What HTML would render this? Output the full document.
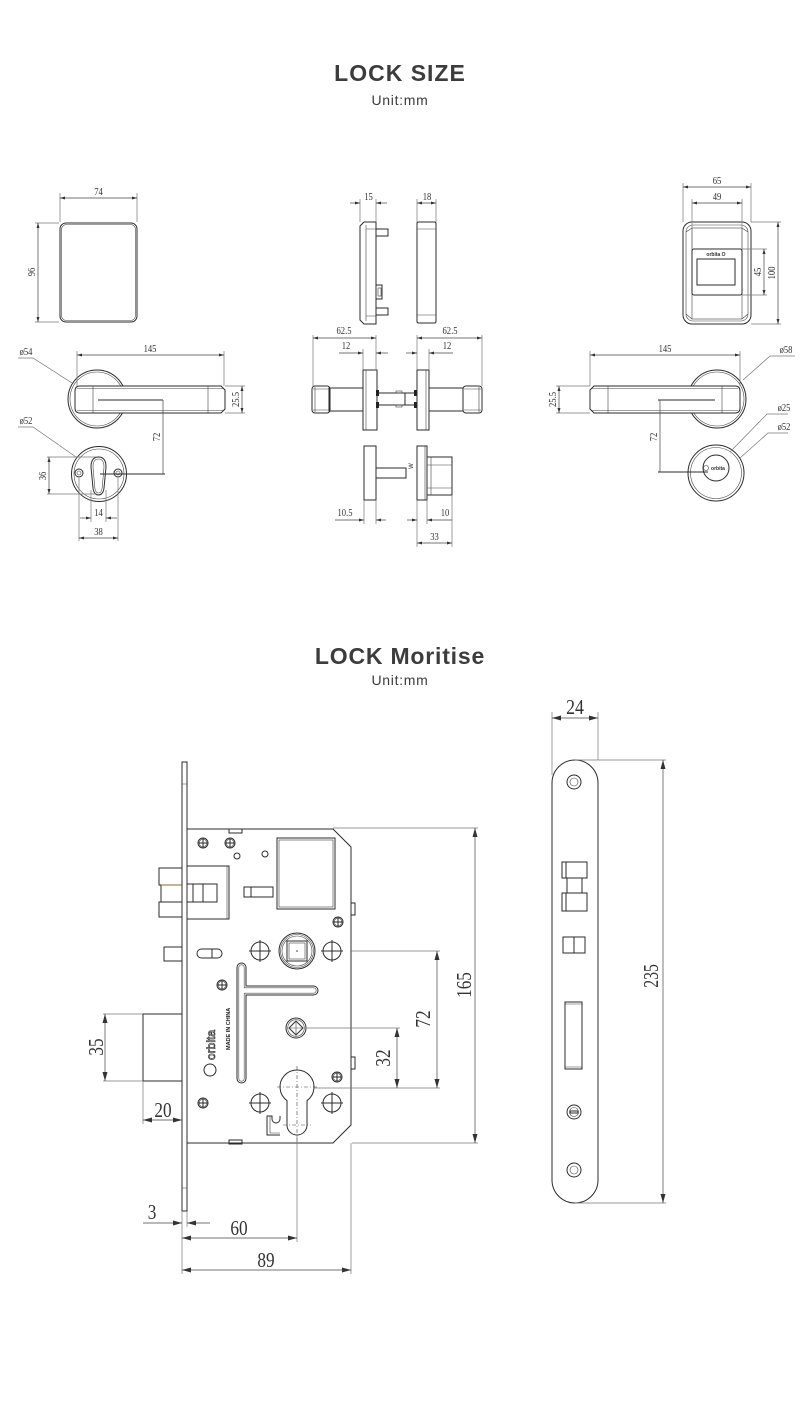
<!DOCTYPE html>
<html><head><meta charset="utf-8"><style>
html,body{margin:0;padding:0;background:#fff;}
svg{display:block;}
.t{font-family:"Liberation Sans",Arial,sans-serif;fill:#3c3c3c;text-anchor:middle;}
.s{font-family:"Liberation Serif",serif;font-size:11px;fill:#333;text-anchor:middle;}
.b{font-family:"Liberation Serif",serif;font-size:21px;fill:#333;text-anchor:middle;}
.o{fill:none;stroke:#2b2b2b;stroke-width:1;}
.w{fill:#fff;stroke:#2b2b2b;stroke-width:1;}
.th{fill:none;stroke:#444;stroke-width:0.6;}
.e{fill:none;stroke:#777;stroke-width:0.7;}
.ds{fill:none;stroke:#444;stroke-width:0.7;}
.dash{fill:none;stroke:#444;stroke-width:0.6;stroke-dasharray:4 2 1 2;}
</style></head><body>
<svg width="800" height="1423" viewBox="0 0 800 1423" xmlns="http://www.w3.org/2000/svg">
<defs>
<marker id="as" markerWidth="5" markerHeight="3" refX="5" refY="1.5" orient="auto-start-reverse" markerUnits="userSpaceOnUse"><path d="M0,0 L5,1.5 L0,3z" fill="#333"/></marker>
<marker id="ab" markerWidth="9" markerHeight="5" refX="9" refY="2.5" orient="auto-start-reverse" markerUnits="userSpaceOnUse"><path d="M0,0 L9,2.5 L0,5z" fill="#333"/></marker>
</defs>

<!-- Titles -->
<text class="t" x="400" y="81" font-size="23" font-weight="bold" letter-spacing="1">LOCK SIZE</text>
<text class="t" x="400" y="105" font-size="14" letter-spacing="0.7">Unit:mm</text>
<text class="t" x="400" y="664" font-size="23" font-weight="bold" letter-spacing="0.8">LOCK Moritise</text>
<text class="t" x="400" y="685" font-size="14" letter-spacing="0.7">Unit:mm</text>

<!-- ===== TOP LEFT: front plate 74x96 ===== -->
<rect class="o" x="60" y="223" width="77" height="99" rx="6" stroke-width="1.3"/>
<rect class="th" x="61.5" y="224.5" width="74" height="96" rx="5"/>
<path class="e" d="M60,193V222 M137,193V222"/>
<line class="ds" x1="60" y1="198" x2="137" y2="198" marker-start="url(#as)" marker-end="url(#as)"/>
<text class="s" transform="translate(98.5,195) scale(.78,1)">74</text>
<path class="e" d="M35,223H59 M35,322H59"/>
<line class="ds" x1="38" y1="223" x2="38" y2="322" marker-start="url(#as)" marker-end="url(#as)"/>
<text class="s" transform="translate(35,272) rotate(-90) scale(.78,1)">96</text>

<!-- left lever -->
<circle class="o" cx="97" cy="399" r="29"/>
<circle class="th" cx="97" cy="399" r="27"/>
<path class="w" d="M80,386 L221,386 L225,390 L225,409 L221,413 L80,413 Q75,413 75,408 L75,391 Q75,386 80,386Z"/>
<path class="th" d="M77,388.5H223 M77,410.5H223 M93,386V413 M208,386V413"/>
<line class="o" x1="98" y1="400" x2="163" y2="400"/>
<path class="e" d="M77,351V386 M224,351V386"/>
<line class="ds" x1="77" y1="355" x2="224" y2="355" marker-start="url(#as)" marker-end="url(#as)"/>
<text class="s" transform="translate(150,352) scale(.78,1)">145</text>
<path class="e" d="M225,386H245 M225,413H245"/>
<line class="ds" x1="242" y1="386" x2="242" y2="413" marker-start="url(#as)" marker-end="url(#as)"/>
<text class="s" transform="translate(239,399.5) rotate(-90) scale(.78,1)">25.5</text>
<path class="e" d="M18,358H33L72,383"/>
<text class="s" transform="translate(26,355) scale(.78,1)" font-size="10">ø54</text>
<line class="ds" x1="163" y1="400" x2="163" y2="474"/>
<text class="s" transform="translate(160,437) rotate(-90) scale(.78,1)">72</text>

<!-- left rose -->
<circle class="o" cx="99" cy="474" r="27.5"/>
<circle class="th" cx="99" cy="474" r="25"/>
<path class="o" d="M98.5,457 C104,457 106,461 106,467 L104,488 C103.5,493 101,495 98.5,495 C96,495 93.5,493 93,488 L91,467 C91,461 93,457 98.5,457Z"/>
<path class="th" d="M98.5,459 C102.5,459 104,462 104,467 L102.2,487.5 C101.8,491.5 100.3,493 98.5,493 C96.7,493 95.2,491.5 94.8,487.5 L93,467 C93,462 94.5,459 98.5,459Z"/>
<circle class="o" cx="79" cy="473" r="4"/><circle class="th" cx="79" cy="473" r="2"/>
<circle class="o" cx="118" cy="473" r="4"/><circle class="th" cx="118" cy="473" r="2"/>
<line class="o" x1="100" y1="474" x2="165" y2="474"/>
<path class="e" d="M47,457H96 M47,494H96"/>
<line class="ds" x1="49" y1="457" x2="49" y2="494" marker-start="url(#as)" marker-end="url(#as)"/>
<text class="s" transform="translate(46,476) rotate(-90) scale(.78,1)">36</text>
<path class="e" d="M91,490V522 M106,490V522"/>
<line class="ds" x1="80" y1="518" x2="91" y2="518" marker-end="url(#as)"/>
<line class="ds" x1="117" y1="518" x2="106" y2="518" marker-end="url(#as)"/>
<text class="s" transform="translate(98.5,516) scale(.78,1)">14</text>
<path class="e" d="M79,478V541 M118,478V541"/>
<line class="ds" x1="79" y1="538" x2="118" y2="538" marker-start="url(#as)" marker-end="url(#as)"/>
<text class="s" transform="translate(98.5,535) scale(.78,1)">38</text>
<path class="e" d="M18,427H33L76,457"/>
<text class="s" transform="translate(26,424) scale(.78,1)" font-size="10">ø52</text>

<!-- ===== TOP MIDDLE ===== -->
<path class="o" d="M364,222 L376,222 L376,324 L364,324 L360,320 L360,226 Z"/>
<path class="th" d="M366,225V321 M366,229H376 M366,316H376"/>
<rect class="o" x="376" y="229" width="12" height="7"/>
<rect class="o" x="376" y="308" width="12" height="7"/>
<rect class="o" x="376" y="285" width="6" height="14"/>
<rect class="th" x="378" y="288" width="3" height="8"/>
<path class="e" d="M360,199V222 M376,199V222"/>
<line class="ds" x1="350" y1="203" x2="360" y2="203" marker-end="url(#as)"/>
<line class="ds" x1="387" y1="203" x2="376" y2="203" marker-end="url(#as)"/>
<text class="s" transform="translate(368.5,200) scale(.78,1)">15</text>

<rect class="o" x="417" y="222" width="19" height="101" rx="1.5"/>
<path class="th" d="M417,229H436 M417,315H436"/>
<path class="e" d="M417,199V222 M436,199V222"/>
<line class="ds" x1="417" y1="203" x2="436" y2="203" marker-start="url(#as)" marker-end="url(#as)"/>
<text class="s" transform="translate(427,200) scale(.78,1)">18</text>

<!-- lever side view -->
<rect class="o" x="329" y="388" width="34" height="23"/>
<rect class="o" x="312" y="386" width="18" height="27" rx="3"/>
<path class="th" d="M315,387V412 M313,389H329 M313,410H329"/>
<rect class="o" x="363" y="370" width="14" height="60"/>
<line class="th" x1="366" y1="370" x2="366" y2="430"/>
<path class="o" d="M377,393H417 M377,405H417 M405,393V405"/>
<rect x="376" y="390" width="3" height="6" fill="#222"/>
<rect x="376" y="402" width="3" height="6" fill="#222"/>
<rect x="414" y="390" width="3" height="6" fill="#222"/>
<rect x="414" y="402" width="3" height="6" fill="#222"/>
<rect class="th" x="396" y="391" width="6" height="2"/>
<rect class="th" x="396" y="405" width="6" height="2"/>
<rect class="o" x="417" y="370" width="12" height="60"/>
<line class="th" x1="426" y1="370" x2="426" y2="430"/>
<rect class="o" x="429" y="388" width="34" height="23"/>
<rect class="o" x="463" y="386" width="19" height="27" rx="3"/>
<path class="th" d="M479,387V412 M464,389H481 M464,410H481"/>
<path class="e" d="M313,335V386 M376,335V370 M363,349V370"/>
<line class="ds" x1="313" y1="338" x2="376" y2="338" marker-start="url(#as)" marker-end="url(#as)"/>
<text class="s" transform="translate(344,334) scale(.78,1)">62.5</text>
<line class="ds" x1="339" y1="353" x2="363" y2="353" marker-end="url(#as)"/>
<line class="ds" x1="388" y1="353" x2="376" y2="353" marker-end="url(#as)"/>
<text class="s" transform="translate(346,349) scale(.78,1)">12</text>
<path class="e" d="M417,335V370 M482,335V386 M429,349V370"/>
<line class="ds" x1="417" y1="338" x2="482" y2="338" marker-start="url(#as)" marker-end="url(#as)"/>
<text class="s" transform="translate(450,334) scale(.78,1)">62.5</text>
<line class="ds" x1="406" y1="353" x2="417" y2="353" marker-end="url(#as)"/>
<line class="ds" x1="453" y1="353" x2="429" y2="353" marker-end="url(#as)"/>
<text class="s" transform="translate(447,349) scale(.78,1)">12</text>

<!-- bottom side view -->
<rect class="o" x="364" y="446" width="12" height="54"/>
<rect class="o" x="376" y="468" width="30" height="10"/>
<rect class="o" x="417" y="446" width="10" height="54"/>
<line class="th" x1="425" y1="446" x2="425" y2="500"/>
<rect class="o" x="427" y="457" width="25" height="38"/>
<path class="th" d="M431,457V495 M427,465H452 M427,488H452"/>
<text font-family="Liberation Sans,sans-serif" font-size="6" fill="#333" transform="translate(413,466) rotate(-90)" text-anchor="middle">W</text>
<path class="e" d="M364,500V524 M376,500V524 M417,500V547 M427,500V524 M452,495V547"/>
<line class="ds" x1="335" y1="520" x2="364" y2="520" marker-end="url(#as)"/>
<line class="ds" x1="386" y1="520" x2="376" y2="520" marker-end="url(#as)"/>
<text class="s" transform="translate(345,516) scale(.78,1)">10.5</text>
<line class="ds" x1="407" y1="520" x2="417" y2="520" marker-end="url(#as)"/>
<line class="ds" x1="452" y1="520" x2="427" y2="520" marker-end="url(#as)"/>
<text class="s" transform="translate(445,516) scale(.78,1)">10</text>
<line class="ds" x1="417" y1="543" x2="452" y2="543" marker-start="url(#as)" marker-end="url(#as)"/>
<text class="s" transform="translate(434.5,540) scale(.78,1)">33</text>

<!-- ===== TOP RIGHT ===== -->
<rect class="o" x="683" y="222" width="68" height="102" rx="9" stroke-width="1.2"/>
<rect class="th" x="686" y="225" width="62" height="96" rx="7"/>
<rect class="th" x="692" y="228" width="50" height="91"/>
<path class="th" d="M686,232L692,228 M748,232L742,228 M686,314L692,319 M748,314L742,319"/>
<rect class="w" x="692" y="249" width="50" height="46" rx="2"/>
<rect class="o" x="697" y="259" width="38" height="26"/>
<text x="716" y="256" font-family="Liberation Sans,sans-serif" font-size="5" font-weight="bold" fill="#333" text-anchor="middle">orbita O</text>
<path class="e" d="M683,183V222 M751,183V222 M692,199V249 M742,199V249"/>
<line class="ds" x1="683" y1="187" x2="751" y2="187" marker-start="url(#as)" marker-end="url(#as)"/>
<text class="s" transform="translate(717,184) scale(.78,1)">65</text>
<line class="ds" x1="692" y1="203" x2="742" y2="203" marker-start="url(#as)" marker-end="url(#as)"/>
<text class="s" transform="translate(717,200) scale(.78,1)">49</text>
<path class="e" d="M742,249H767 M742,295H767 M751,222H781 M751,324H781"/>
<line class="ds" x1="764" y1="249" x2="764" y2="295" marker-start="url(#as)" marker-end="url(#as)"/>
<text class="s" transform="translate(761,272) rotate(-90) scale(.78,1)">45</text>
<line class="ds" x1="778" y1="222" x2="778" y2="324" marker-start="url(#as)" marker-end="url(#as)"/>
<text class="s" transform="translate(775,273) rotate(-90) scale(.78,1)">100</text>

<!-- right lever -->
<circle class="o" cx="717" cy="399" r="29"/>
<circle class="th" cx="717" cy="399" r="27"/>
<path class="w" d="M594,386 L735,386 Q740,386 740,391 L740,408 Q740,413 735,413 L594,413 L590,409 L590,390 Z"/>
<path class="th" d="M592,388.5H738 M592,410.5H738 M608,386V413 M722,386V413"/>
<line class="o" x1="658" y1="400" x2="715" y2="400"/>
<path class="e" d="M590,351V386 M740,351V386"/>
<line class="ds" x1="590" y1="355" x2="740" y2="355" marker-start="url(#as)" marker-end="url(#as)"/>
<text class="s" transform="translate(665,352) scale(.78,1)">145</text>
<path class="e" d="M556,386H590 M556,413H590"/>
<line class="ds" x1="559" y1="386" x2="559" y2="413" marker-start="url(#as)" marker-end="url(#as)"/>
<text class="s" transform="translate(556,399.5) rotate(-90) scale(.78,1)">25.5</text>
<path class="e" d="M795,356H770L743,380"/>
<text class="s" transform="translate(786,353) scale(.78,1)" font-size="10">ø58</text>
<line class="ds" x1="660" y1="400" x2="660" y2="472"/>
<text class="s" transform="translate(657,437) rotate(-90) scale(.78,1)">72</text>
<circle class="o" cx="716" cy="473" r="28"/>
<circle class="th" cx="716" cy="473" r="25.5"/>
<circle class="o" cx="716" cy="468" r="13"/>
<circle class="th" cx="706" cy="468" r="2.5"/>
<text x="718" y="470" font-family="Liberation Sans,sans-serif" font-size="5" font-weight="bold" fill="#333" text-anchor="middle">orbita</text>
<line class="o" x1="658" y1="472" x2="708" y2="472"/>
<path class="e" d="M788,414H767L730,452"/>
<text class="s" transform="translate(784,411) scale(.78,1)" font-size="10">ø25</text>
<path class="e" d="M788,433H768L740,458"/>
<text class="s" transform="translate(784,430) scale(.78,1)" font-size="10">ø52</text>

<!-- ===== MORTISE ===== -->
<rect class="o" x="182" y="762" width="5" height="449"/>
<path class="th" d="M182,784H187 M182,1188H187"/>
<path class="o" d="M187,829 L333,829 L351,847 L351,1125 L333,1143 L187,1143"/>
<rect class="o" x="229" y="829" width="13" height="4"/>
<rect class="o" x="229" y="1140" width="13" height="4"/>
<rect class="o" x="351" y="903" width="4" height="12"/>
<rect class="o" x="351" y="1057" width="4" height="12"/>

<!-- deadbolt -->
<rect class="o" x="143" y="1014" width="39" height="67"/>

<!-- screws -->
<g class="o">
<circle cx="203" cy="843" r="5"/><path d="M198,843H208M203,838V848"/>
<circle cx="230" cy="843" r="5"/><path d="M225,843H235M230,838V848"/>
<circle cx="338" cy="922" r="5"/><path d="M333,922H343M338,917V927"/>
<circle cx="222" cy="985" r="5"/><path d="M217,985H227M222,980V990"/>
<circle cx="337" cy="1077" r="5"/><path d="M332,1077H342M337,1072V1082"/>
<circle cx="203" cy="1103" r="5"/><path d="M198,1103H208M203,1098V1108"/>
</g>
<g class="th">
<circle cx="203" cy="843" r="3.8"/><circle cx="230" cy="843" r="3.8"/><circle cx="338" cy="922" r="3.8"/>
<circle cx="222" cy="985" r="3.8"/><circle cx="337" cy="1077" r="3.8"/><circle cx="203" cy="1103" r="3.8"/>
</g>
<circle class="o" cx="237" cy="856" r="3"/>
<circle class="o" cx="265" cy="854" r="3"/>

<!-- deadbolt box -->
<rect class="o" x="277" y="838" width="58" height="71"/>
<rect class="th" x="279" y="840" width="54" height="67"/>
<!-- switch -->
<rect class="o" x="244" y="887" width="29" height="10"/>
<line class="o" x1="251" y1="887" x2="251" y2="897"/>
<!-- latch -->
<rect class="o" x="187" y="866" width="42" height="53"/>
<line class="th" x1="227" y1="866" x2="227" y2="919"/>
<rect class="o" x="187" y="884" width="30" height="18"/>
<path class="o" d="M193,884V902 M203,884V902"/>
<rect class="o" x="159" y="868" width="23" height="17"/>
<rect class="o" x="161" y="885" width="21" height="17"/>
<rect class="o" x="159" y="902" width="23" height="15"/>
<line x1="161" y1="885" x2="182" y2="885" stroke="#8a6a2a" stroke-width="1"/>
<rect class="o" x="164" y="947" width="18" height="14"/>
<rect class="o" x="197" y="949" width="25" height="9" rx="4.5"/>
<line class="o" x1="212" y1="949" x2="212" y2="958"/>

<!-- hub -->
<circle class="o" cx="297" cy="951" r="18"/>
<circle class="th" cx="297" cy="951" r="16.5"/>
<circle class="th" cx="297" cy="951" r="15"/>
<rect class="o" x="287" y="941" width="20" height="20"/>
<rect class="th" x="289" y="943" width="16" height="16"/>
<circle cx="297" cy="951" r="0.8" fill="#333"/>

<!-- cross holes -->
<g class="o">
<circle cx="260" cy="951" r="9"/><path d="M249,951H271M260,940V962"/>
<circle cx="332" cy="951" r="9"/><path d="M321,951H343M332,940V962"/>
<circle cx="260" cy="1103" r="9"/><path d="M249,1103H271M260,1092V1114"/>
<circle cx="332" cy="1103" r="9"/><path d="M321,1103H343M332,1092V1114"/>
</g>

<!-- T slot -->
<path class="o" d="M241.5,963 A4.5,4.5 0 0 1 246,967.5 L246,986 L313.5,986 A4.5,4.5 0 0 1 313.5,995 L246,995 L246,1078.5 A4.5,4.5 0 0 1 237,1078.5 L237,967.5 A4.5,4.5 0 0 1 241.5,963 Z"/>
<path class="th" d="M241.5,964.8 A2.7,2.7 0 0 1 244.2,967.5 L244.2,987.8 L313.5,987.8 A2.7,2.7 0 0 1 313.5,993.2 L244.2,993.2 L244.2,1078.5 A2.7,2.7 0 0 1 238.8,1078.5 L238.8,967.5 A2.7,2.7 0 0 1 241.5,964.8 Z"/>

<!-- lower spindle -->
<circle class="o" cx="296" cy="1028" r="10"/>
<circle class="th" cx="296" cy="1028" r="8.3"/>
<path class="o" d="M296,1021 L303,1028 L296,1035 L289,1028 Z"/>
<path class="th" d="M289,1028H303 M296,1021V1035"/>

<!-- cylinder hole -->
<path class="o" d="M287,1100.7 A17,17 0 1 1 307,1100.7 L307,1125 A10,10 0 0 1 287,1125 Z"/>
<path class="dash" d="M297,1066V1142 M277,1087H317 M283,1125H311"/>
<!-- clip -->
<path class="o" d="M280,1135 H267 V1116 H272 V1119 A4,4 0 0 0 280,1119 V1116"/>
<path class="th" d="M270,1116V1133H280"/>

<!-- logo -->
<circle class="o" cx="210" cy="1070" r="6"/>
<text font-family="Liberation Sans,sans-serif" font-size="12" fill="#fff" stroke="#333" stroke-width="0.7" transform="translate(215,1060) rotate(-90)">orbita</text>
<text font-family="Liberation Sans,sans-serif" font-size="5.5" font-weight="bold" fill="#222" transform="translate(230,1050) rotate(-90)">MADE IN CHINA</text>

<!-- mortise dims -->
<path class="e" d="M350,951H440 M314,1088H440 M306,1028H400 M333,828H478 M352,1143H478"/>
<line class="ds" x1="437" y1="951" x2="437" y2="1088" marker-start="url(#ab)" marker-end="url(#ab)"/>
<text class="b" transform="translate(430,1019) rotate(-90) scale(.82,1)">72</text>
<line class="ds" x1="397" y1="1028" x2="397" y2="1088" marker-start="url(#ab)" marker-end="url(#ab)"/>
<text class="b" transform="translate(390,1058) rotate(-90) scale(.82,1)">32</text>
<line class="ds" x1="475" y1="828" x2="475" y2="1143" marker-start="url(#ab)" marker-end="url(#ab)"/>
<text class="b" transform="translate(471,985) rotate(-90) scale(.82,1)">165</text>

<path class="e" d="M103,1014H143 M103,1081H143 M143,1081V1124"/>
<line class="ds" x1="105" y1="1014" x2="105" y2="1081" marker-start="url(#ab)" marker-end="url(#ab)"/>
<text class="b" transform="translate(103,1047) rotate(-90) scale(.82,1)">35</text>
<line class="ds" x1="143" y1="1120" x2="182" y2="1120" marker-start="url(#ab)" marker-end="url(#ab)"/>
<text class="b" transform="translate(163,1117) scale(.82,1)">20</text>

<path class="e" d="M182,1211V1274 M187,1211V1227 M297,1135V1242 M351,1143V1274"/>
<line class="ds" x1="143" y1="1223" x2="182" y2="1223" marker-end="url(#ab)"/>
<line class="ds" x1="210" y1="1223" x2="187" y2="1223" marker-end="url(#ab)"/>
<text class="b" transform="translate(152,1219) scale(.82,1)">3</text>
<line class="ds" x1="182" y1="1238" x2="297" y2="1238" marker-start="url(#ab)" marker-end="url(#ab)"/>
<text class="b" transform="translate(239,1235) scale(.82,1)">60</text>
<line class="ds" x1="182" y1="1270" x2="351" y2="1270" marker-start="url(#ab)" marker-end="url(#ab)"/>
<text class="b" transform="translate(266,1267) scale(.82,1)">89</text>

<!-- ===== FACEPLATE ===== -->
<rect class="o" x="552" y="760" width="46" height="443" rx="23"/>
<circle class="o" cx="574" cy="782" r="7"/><circle class="th" cx="574" cy="782" r="4"/>
<circle class="o" cx="574" cy="1170" r="7"/><circle class="th" cx="574" cy="1170" r="4"/>
<circle class="o" cx="574" cy="1112" r="7"/><circle class="th" cx="574" cy="1112" r="4.5"/>
<rect class="o" x="570" y="1111" width="8" height="2"/>
<rect class="o" x="562" y="862" width="25" height="16"/>
<rect class="o" x="562" y="893" width="25" height="18"/>
<path class="o" d="M566,862V878 M566,893V911 M567,878V893 M582,878V893"/>
<rect class="o" x="563" y="937" width="22" height="16"/>
<line class="o" x1="574" y1="937" x2="574" y2="953"/>
<rect class="o" x="565" y="1002" width="17" height="67"/>
<path class="th" d="M565,1004H582 M565,1067H582"/>
<path class="e" d="M552,712V775 M598,712V760 M575,760H666 M575,1203H666"/>
<line class="ds" x1="552" y1="718" x2="598" y2="718" marker-start="url(#ab)" marker-end="url(#ab)"/>
<text class="b" transform="translate(575,714) scale(.85,1)">24</text>
<line class="ds" x1="663" y1="760" x2="663" y2="1203" marker-start="url(#ab)" marker-end="url(#ab)"/>
<text class="b" transform="translate(658,976) rotate(-90) scale(.75,1)">235</text>
</svg>
</body></html>
